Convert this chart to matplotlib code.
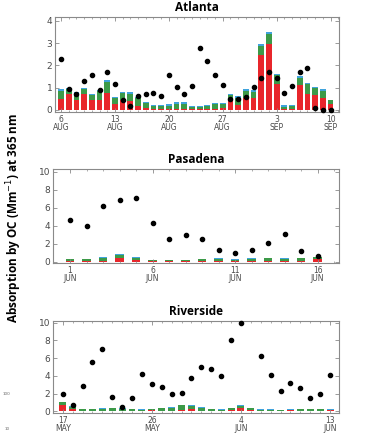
import numpy as np
import matplotlib.pyplot as plt
from matplotlib.ticker import MultipleLocator

# Atlanta: 6 Aug .. 10 Sep (day index 0..35)
atl_red = [0.50, 0.69, 0.43, 0.70, 0.43, 0.42, 0.76, 0.24, 0.42, 0.40, 0.16, 0.06,
           0.02, 0.02, 0.02, 0.05, 0.05, 0.02, 0.02, 0.02, 0.05, 0.10, 0.40, 0.21,
           0.55, 0.53, 2.45, 2.95, 1.15, 0.02, 0.02, 1.12, 0.72, 0.65, 0.55, 0.25]
atl_green = [0.36, 0.25, 0.29, 0.24, 0.24, 0.43, 0.49, 0.28, 0.33, 0.32, 0.35, 0.24,
             0.14, 0.14, 0.16, 0.22, 0.22, 0.11, 0.11, 0.13, 0.20, 0.15, 0.27, 0.33,
             0.31, 0.28, 0.40, 0.45, 0.40, 0.12, 0.15, 0.33, 0.42, 0.32, 0.31, 0.17]
atl_blue = [0.07, 0.06, 0.06, 0.06, 0.06, 0.06, 0.08, 0.06, 0.06, 0.06, 0.06, 0.06,
            0.06, 0.06, 0.06, 0.06, 0.06, 0.06, 0.06, 0.06, 0.06, 0.06, 0.06, 0.06,
            0.07, 0.06, 0.10, 0.10, 0.08, 0.06, 0.06, 0.07, 0.06, 0.06, 0.06, 0.04]
atl_dots = [2.26, 0.93, 0.73, 1.29, 1.56, 0.88, 1.69, 1.14, 0.46, 0.19, 0.60, 0.69,
            0.76, 0.64, 1.57, 1.03, 0.70, 1.09, 2.78, 2.19, 1.56, 1.11, 0.47, 0.48,
            0.58, 1.02, 1.44, 1.69, 1.44, 0.74, 1.06, 1.72, 1.87, 0.08, 0.01, 0.01]
atl_ticks = [0, 7, 14, 21, 28, 35]
atl_labels = ['6\nAUG', '13\nAUG', '20\nAUG', '27\nAUG', '3\nSEP', '10\nSEP']

# Pasadena: 1 Jun .. 16 Jun (day index 0..15)
pas_red = [0.02, 0.02, 0.10, 0.40, 0.15, 0.02, 0.02, 0.02, 0.02, 0.10, 0.02, 0.05,
           0.10, 0.05, 0.10, 0.25]
pas_green = [0.28, 0.22, 0.30, 0.30, 0.28, 0.12, 0.12, 0.12, 0.22, 0.22, 0.18, 0.27,
             0.30, 0.25, 0.30, 0.25]
pas_blue = [0.05, 0.05, 0.07, 0.10, 0.05, 0.03, 0.03, 0.03, 0.05, 0.06, 0.08, 0.06,
            0.06, 0.12, 0.06, 0.04]
pas_dots = [4.6, 4.0, 6.2, 6.85, 7.05, 4.3, 2.55, 3.0, 2.55, 1.35, 1.0, 1.25,
            2.05, 3.05, 1.2, 0.65]
pas_ticks = [0, 5, 10, 15]
pas_labels = ['1\nJUN', '6\nJUN', '11\nJUN', '16\nJUN']

# Riverside: 17 May .. 13 Jun (day index 0..27)
riv_red = [0.70, 0.30, 0.02, 0.02, 0.05, 0.08, 0.05, 0.02, 0.02, 0.10, 0.05, 0.05,
           0.15, 0.20, 0.05, 0.02, 0.02, 0.15, 0.35, 0.15, 0.02, 0.02, 0.02, 0.10,
           0.05, 0.05, 0.05, 0.10]
riv_green = [0.30, 0.20, 0.20, 0.20, 0.25, 0.27, 0.20, 0.20, 0.15, 0.12, 0.30, 0.35,
             0.50, 0.40, 0.35, 0.20, 0.15, 0.20, 0.28, 0.20, 0.15, 0.15, 0.10, 0.08,
             0.20, 0.20, 0.20, 0.07]
riv_blue = [0.05, 0.05, 0.03, 0.03, 0.05, 0.07, 0.10, 0.03, 0.03, 0.03, 0.05, 0.05,
            0.10, 0.05, 0.05, 0.03, 0.03, 0.05, 0.07, 0.05, 0.03, 0.03, 0.03, 0.02,
            0.05, 0.05, 0.05, 0.03]
riv_dot_days = list(range(0, 19)) + list(range(20, 28))
riv_dots = [2.0, 0.7, 2.9, 5.6, 7.0, 1.6, 0.5, 1.5, 4.2, 3.1, 2.75, 2.0, 2.1, 3.8,
            5.0, 4.75, 4.0, 8.0, 10.0, 6.25, 4.1, 2.3, 3.15, 2.6, 1.5, 2.0, 4.1]
riv_ticks = [0, 9, 18, 27]
riv_labels = ['17\nMAY', '26\nMAY', '4\nJUN', '13\nJUN']

RED = '#e8262b'
GREEN = '#3c9a48'
BLUE = '#3fa3dc'
AX_COL = '#8a8a8a'
TXT_COL = '#4a4a4a'

fig = plt.figure(figsize=(3.79, 4.36), dpi=100)


def panel(rect, title, red, green, blue, dot_x, dots, ticks, labels,
          xlim, ylim, yticks, width):
    ax = fig.add_axes(rect)
    x = np.arange(len(red))
    red = np.array(red)
    green = np.array(green)
    blue = np.array(blue)
    ax.bar(x, red, width=width, color=RED, linewidth=0)
    ax.bar(x, green, bottom=red, width=width, color=GREEN, linewidth=0)
    ax.bar(x, blue, bottom=red + green, width=width, color=BLUE, linewidth=0)
    ax.scatter(dot_x, dots, s=9, color='black', zorder=5, clip_on=False)
    ax.set_xlim(*xlim)
    ax.set_ylim(*ylim)
    ax.set_xticks(ticks)
    ax.set_xticklabels(labels, fontsize=5.5, color=TXT_COL, linespacing=0.85)
    ax.xaxis.set_minor_locator(MultipleLocator(1))
    ax.set_yticks(yticks)
    ax.set_yticklabels([str(v) for v in yticks], fontsize=6.5, color=TXT_COL)
    ax.tick_params(direction='in', top=True, right=True, length=3, width=0.6,
                   colors=AX_COL, labelcolor=TXT_COL, pad=2)
    ax.tick_params(which='minor', direction='in', top=True, bottom=True,
                   length=1.5, width=0.5, colors=AX_COL)
    for s in ax.spines.values():
        s.set_color(AX_COL)
        s.set_linewidth(0.8)
    ax.set_title(title, fontsize=8.5, fontweight='bold', family='Open Sans', pad=4)
    return ax


panel([55 / 379, 1 - 112 / 436, 284 / 379, 95 / 436], 'Atlanta',
      atl_red, atl_green, atl_blue, np.arange(len(atl_dots)), atl_dots,
      atl_ticks, atl_labels, (-0.78, 36.1), (-0.1, 4.17), [0, 1, 2, 3, 4], 0.75)

panel([53 / 379, 1 - 263 / 436, 286 / 379, 94 / 436], 'Pasadena',
      pas_red, pas_green, pas_blue, np.arange(len(pas_dots)), pas_dots,
      pas_ticks, pas_labels, (-1.03, 16.3), (-0.15, 10.3), [0, 2, 4, 6, 8, 10], 0.5)

panel([53 / 379, 1 - 413 / 436, 286 / 379, 92 / 436], 'Riverside',
      riv_red, riv_green, riv_blue, riv_dot_days, riv_dots,
      riv_ticks, riv_labels, (-0.98, 27.9), (-0.2, 10.2), [0, 2, 4, 6, 8, 10], 0.7)

fig.text(0.037, 0.5, 'Absorption by OC (Mm$^{-1}$) at 365 nm', rotation=90,
         ha='center', va='center', fontsize=8.5, fontweight='bold', family='Open Sans')
fig.text(0.008, 1 - 394 / 436, '100', fontsize=3, color='#666666', va='center')
fig.text(0.011, 1 - 429 / 436, '10', fontsize=3, color='#666666', va='center')

fig.savefig('out.png', dpi=100)
